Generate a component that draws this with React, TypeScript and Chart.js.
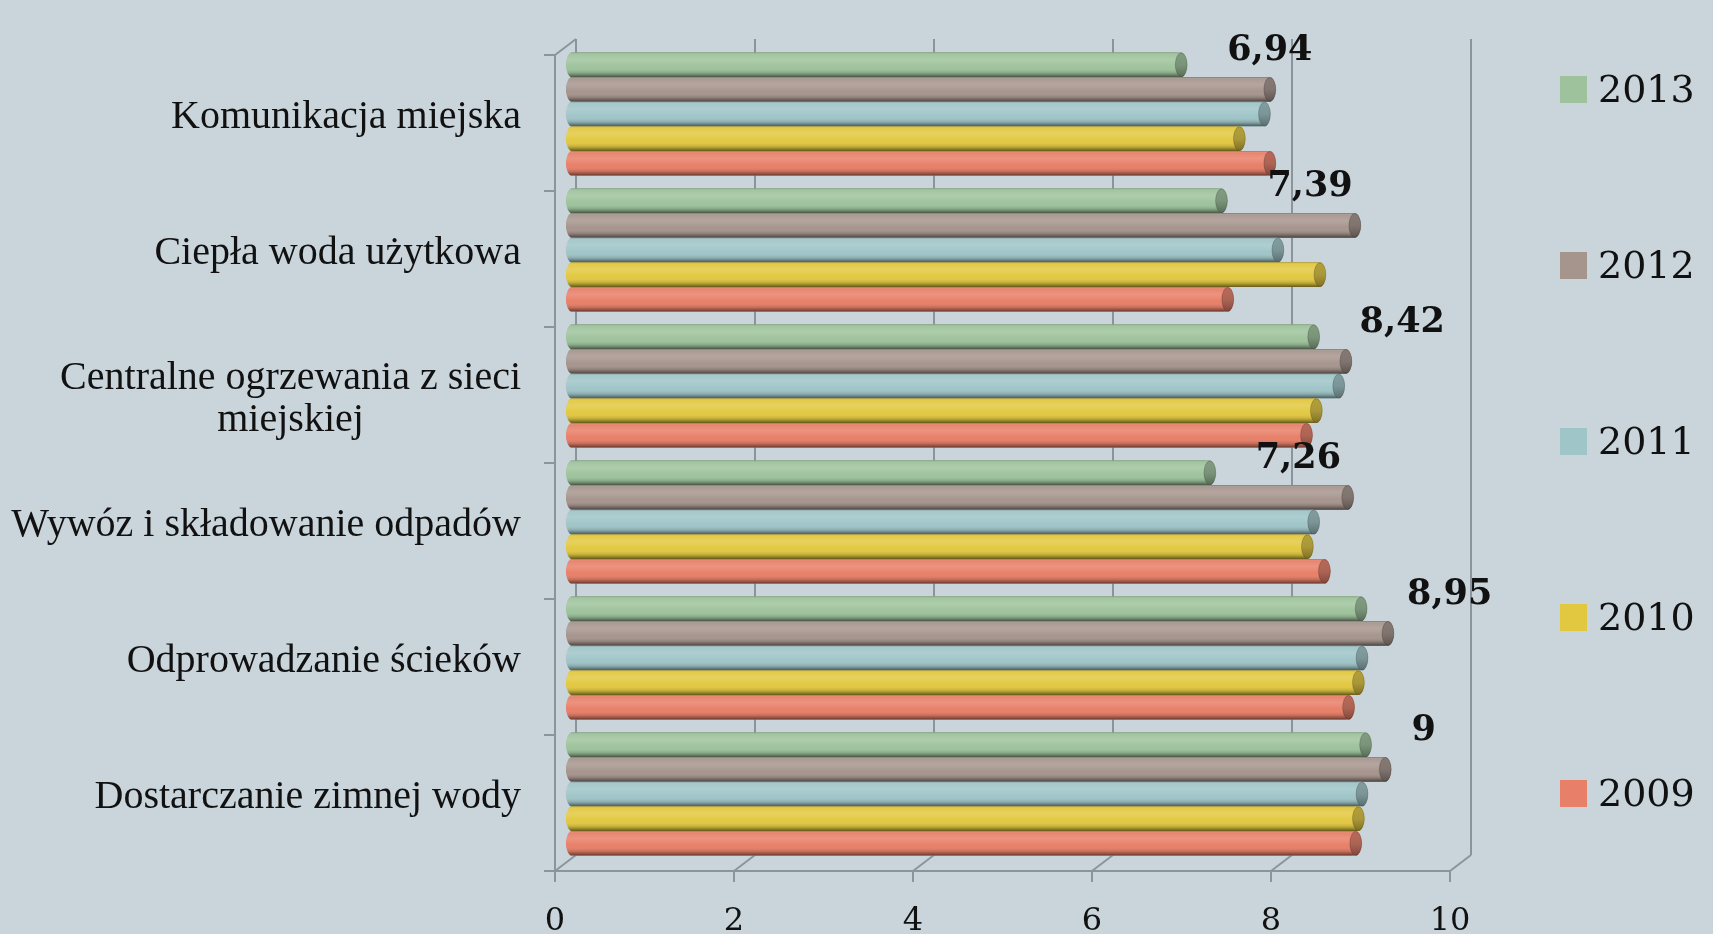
import React, { useEffect, useRef } from "react";
import { Chart, registerables } from "chart.js";

Chart.register(...registerables);

// ---------- data ----------
const categories: (string | string[])[] = [
  "Komunikacja miejska",
  "Ciepła woda użytkowa",
  ["Centralne ogrzewania z sieci", "miejskiej"],
  "Wywóz i składowanie odpadów",
  "Odprowadzanie ścieków",
  "Dostarczanie zimnej wody",
];
const seriesNames = ["2013", "2012", "2011", "2010", "2009"];
const values2013 = [6.94, 7.39, 8.42, 7.26, 8.95, 9];
const values2012 = [7.93, 8.88, 8.78, 8.8, 9.25, 9.22];
const values2011 = [7.87, 8.02, 8.7, 8.42, 8.96, 8.96];
const values2010 = [7.59, 8.49, 8.45, 8.35, 8.92, 8.92];
const values2009 = [7.93, 7.46, 8.34, 8.54, 8.81, 8.89];
const seriesColors = ["#9ec39c", "#a6958d", "#9fc5c8", "#e2c840", "#e87f68"];
const xMin = 0;
const xMax = 10;
const xStep = 2;

const BG = "#c9d4db";
const FRAME = "#8b949a";
const FRONT = { dx: -11, dy: 9 };
const BACK = { dx: 10, dy: -7 };

function fmt(v: number) {
  return String(v).replace(".", ",");
}

const framePlugin = {
  id: "frame3d",
  beforeDatasetsDraw(chart: any) {
    const { ctx, chartArea } = chart;
    const xs = chart.scales.x;
    const ys = chart.scales.y;
    const { left, top, bottom } = chartArea;
    ctx.save();
    ctx.strokeStyle = FRAME;
    ctx.lineWidth = 2;
    const line = (x1: number, y1: number, x2: number, y2: number) => {
      ctx.beginPath();
      ctx.moveTo(x1, y1);
      ctx.lineTo(x2, y2);
      ctx.stroke();
    };
    for (let v = xMin; v <= xMax; v += xStep) {
      const px = xs.getPixelForValue(v);
      line(px + BACK.dx, top + BACK.dy, px + BACK.dx, bottom + BACK.dy);
      line(px + BACK.dx, bottom + BACK.dy, px + FRONT.dx, bottom + FRONT.dy);
      line(px + FRONT.dx, bottom + FRONT.dy, px + FRONT.dx, bottom + FRONT.dy + 11);
    }
    const right = xs.getPixelForValue(xMax);
    line(left + FRONT.dx, bottom + FRONT.dy, right + FRONT.dx, bottom + FRONT.dy);
    line(left + FRONT.dx, top + FRONT.dy, left + FRONT.dx, bottom + FRONT.dy);
    line(left + FRONT.dx, top + FRONT.dy, left + BACK.dx, top + BACK.dy);
    const n = chart.data.labels.length;
    for (let i = 0; i <= n; i++) {
      const py = ys.getPixelForValue(i - 0.5);
      line(left + FRONT.dx - 11, py + FRONT.dy, left + FRONT.dx, py + FRONT.dy);
    }
    ctx.restore();
  },
};

function drawCylinder(ctx: CanvasRenderingContext2D, x0: number, x1: number, yc: number, h: number, color: string) {
  const top = yc - h / 2;
  const bot = yc + h / 2;
  const rx = Math.max(1, Math.min(h * 0.24, (x1 - x0) / 2));
  ctx.save();
  ctx.beginPath();
  ctx.moveTo(x0 + rx, top);
  ctx.lineTo(x1 - rx, top);
  ctx.ellipse(x1 - rx, yc, rx, h / 2, 0, -Math.PI / 2, Math.PI / 2);
  ctx.lineTo(x0 + rx, bot);
  ctx.ellipse(x0 + rx, yc, rx, h / 2, 0, Math.PI / 2, Math.PI * 1.5);
  ctx.closePath();
  ctx.fillStyle = color;
  ctx.fill();
  const g = ctx.createLinearGradient(0, top, 0, bot);
  g.addColorStop(0, "rgba(60,60,60,0.4)");
  g.addColorStop(0.08, "rgba(255,255,255,0.05)");
  g.addColorStop(0.3, "rgba(255,255,255,0.16)");
  g.addColorStop(0.6, "rgba(255,255,255,0)");
  g.addColorStop(0.84, "rgba(0,0,0,0.16)");
  g.addColorStop(1, "rgba(0,0,0,0.55)");
  ctx.fillStyle = g;
  ctx.fill();
  // end cap
  ctx.beginPath();
  ctx.ellipse(x1 - rx, yc, rx, h / 2 - 0.5, 0, 0, Math.PI * 2);
  ctx.fillStyle = color;
  ctx.fill();
  const g2 = ctx.createLinearGradient(0, top, 0, bot);
  g2.addColorStop(0, "rgba(40,40,40,0.25)");
  g2.addColorStop(0.5, "rgba(40,40,40,0.3)");
  g2.addColorStop(1, "rgba(0,0,0,0.45)");
  ctx.fillStyle = g2;
  ctx.fill();
  ctx.strokeStyle = "rgba(0,0,0,0.18)";
  ctx.lineWidth = 1;
  ctx.stroke();
  ctx.restore();
}

const cylinderPlugin = {
  id: "cylinders",
  afterDatasetsDraw(chart: any) {
    const { ctx } = chart;
    chart.data.datasets.forEach((ds: any, di: number) => {
      const meta = chart.getDatasetMeta(di);
      meta.data.forEach((el: any) => {
        const p = el.getProps(["x", "y", "base", "height"], true);
        drawCylinder(ctx, p.base, p.x, p.y, p.height, ds.backgroundColor);
      });
    });
    // value labels for the first series (2013)
    const meta0 = chart.getDatasetMeta(0);
    ctx.save();
    ctx.font = 'bold 35px "DejaVu Serif"';
    ctx.fillStyle = "#111";
    ctx.textAlign = "left";
    ctx.textBaseline = "middle";
    meta0.data.forEach((el: any, i: number) => {
      const p = el.getProps(["x", "y"], true);
      ctx.fillText(fmt(chart.data.datasets[0].data[i]), p.x + 40, p.y - 14);
    });
    ctx.restore();
  },
};

const catLabelPlugin = {
  id: "catLabels",
  afterDraw(chart: any) {
    const { ctx, chartArea } = chart;
    const ys = chart.scales.y;
    ctx.save();
    ctx.font = '40px "Liberation Serif"';
    ctx.fillStyle = "#111";
    ctx.textAlign = "center";
    ctx.textBaseline = "middle";
    const right = chartArea.left - 45;
    const lh = 42;
    chart.data.labels.forEach((lab: any, i: number) => {
      const lines: string[] = Array.isArray(lab) ? lab : [lab];
      const w = Math.max(...lines.map((l) => ctx.measureText(l).width));
      const cx = right - w / 2;
      const yc = ys.getPixelForValue(i) + 3 + (lines.length > 1 ? 10 : 0);
      lines.forEach((l, j) => {
        ctx.fillText(l, cx, yc + (j - (lines.length - 1) / 2) * lh);
      });
    });
    ctx.restore();
  },
};

function Legend() {
  return (
    <div style={{ position: "absolute", left: 1560, top: 0 }}>
      {seriesNames.map((name, i) => (
        <div
          key={name}
          style={{
            position: "absolute",
            left: 0,
            top: 89 + i * 176 - 22,
            height: 44,
            display: "flex",
            alignItems: "center",
            whiteSpace: "nowrap",
          }}
        >
          <span style={{ display: "inline-block", width: 27, height: 27, background: seriesColors[i] }} />
          <span style={{ marginLeft: 11, font: '38px "DejaVu Serif"', color: "#111", lineHeight: "44px" }}>{name}</span>
        </div>
      ))}
    </div>
  );
}

export default function App() {
  const ref = useRef<HTMLCanvasElement | null>(null);
  useEffect(() => {
    document.body.style.margin = "0";
    document.body.style.background = BG;
    const seriesValues = [values2013, values2012, values2011, values2010, values2009];
    const chart = new Chart(ref.current as HTMLCanvasElement, {
      type: "bar",
      data: {
        labels: categories as any,
        datasets: seriesNames.map((name, i) => ({
          label: name,
          data: seriesValues[i],
          backgroundColor: seriesColors[i],
          borderWidth: 0,
          borderRadius: 40,
          borderSkipped: false,
          categoryPercentage: 0.905,
          barPercentage: 1,
        })),
      },
      options: {
        indexAxis: "y",
        animation: false,
        responsive: true,
        maintainAspectRatio: false,
        layout: { padding: { left: 0, right: 252, top: 46, bottom: 0 } },
        scales: {
          x: {
            min: xMin,
            max: xMax,
            ticks: {
              stepSize: xStep,
              font: { family: "DejaVu Serif", size: 32 },
              color: "#111",
              padding: 40,
              labelOffset: FRONT.dx,
              maxRotation: 0,
            },
            grid: { display: false, drawTicks: false },
            border: { display: false },
            afterFit: (s: any) => {
              s.height = 72;
            },
          },
          y: {
            ticks: { display: false },
            grid: { display: false, drawTicks: false },
            border: { display: false },
            afterFit: (s: any) => {
              s.width = 566;
            },
          },
        },
        plugins: {
          legend: { display: false },
          tooltip: { enabled: false },
        },
      } as any,
      plugins: [framePlugin, cylinderPlugin, catLabelPlugin],
    });
    return () => chart.destroy();
  }, []);
  return (
    <div style={{ position: "relative", width: 1713, height: 934, background: BG, overflow: "hidden" }}>
      <div style={{ position: "absolute", left: 0, top: 0, width: 1713, height: 934 }}>
        <canvas ref={ref} />
      </div>
      <Legend />
    </div>
  );
}
